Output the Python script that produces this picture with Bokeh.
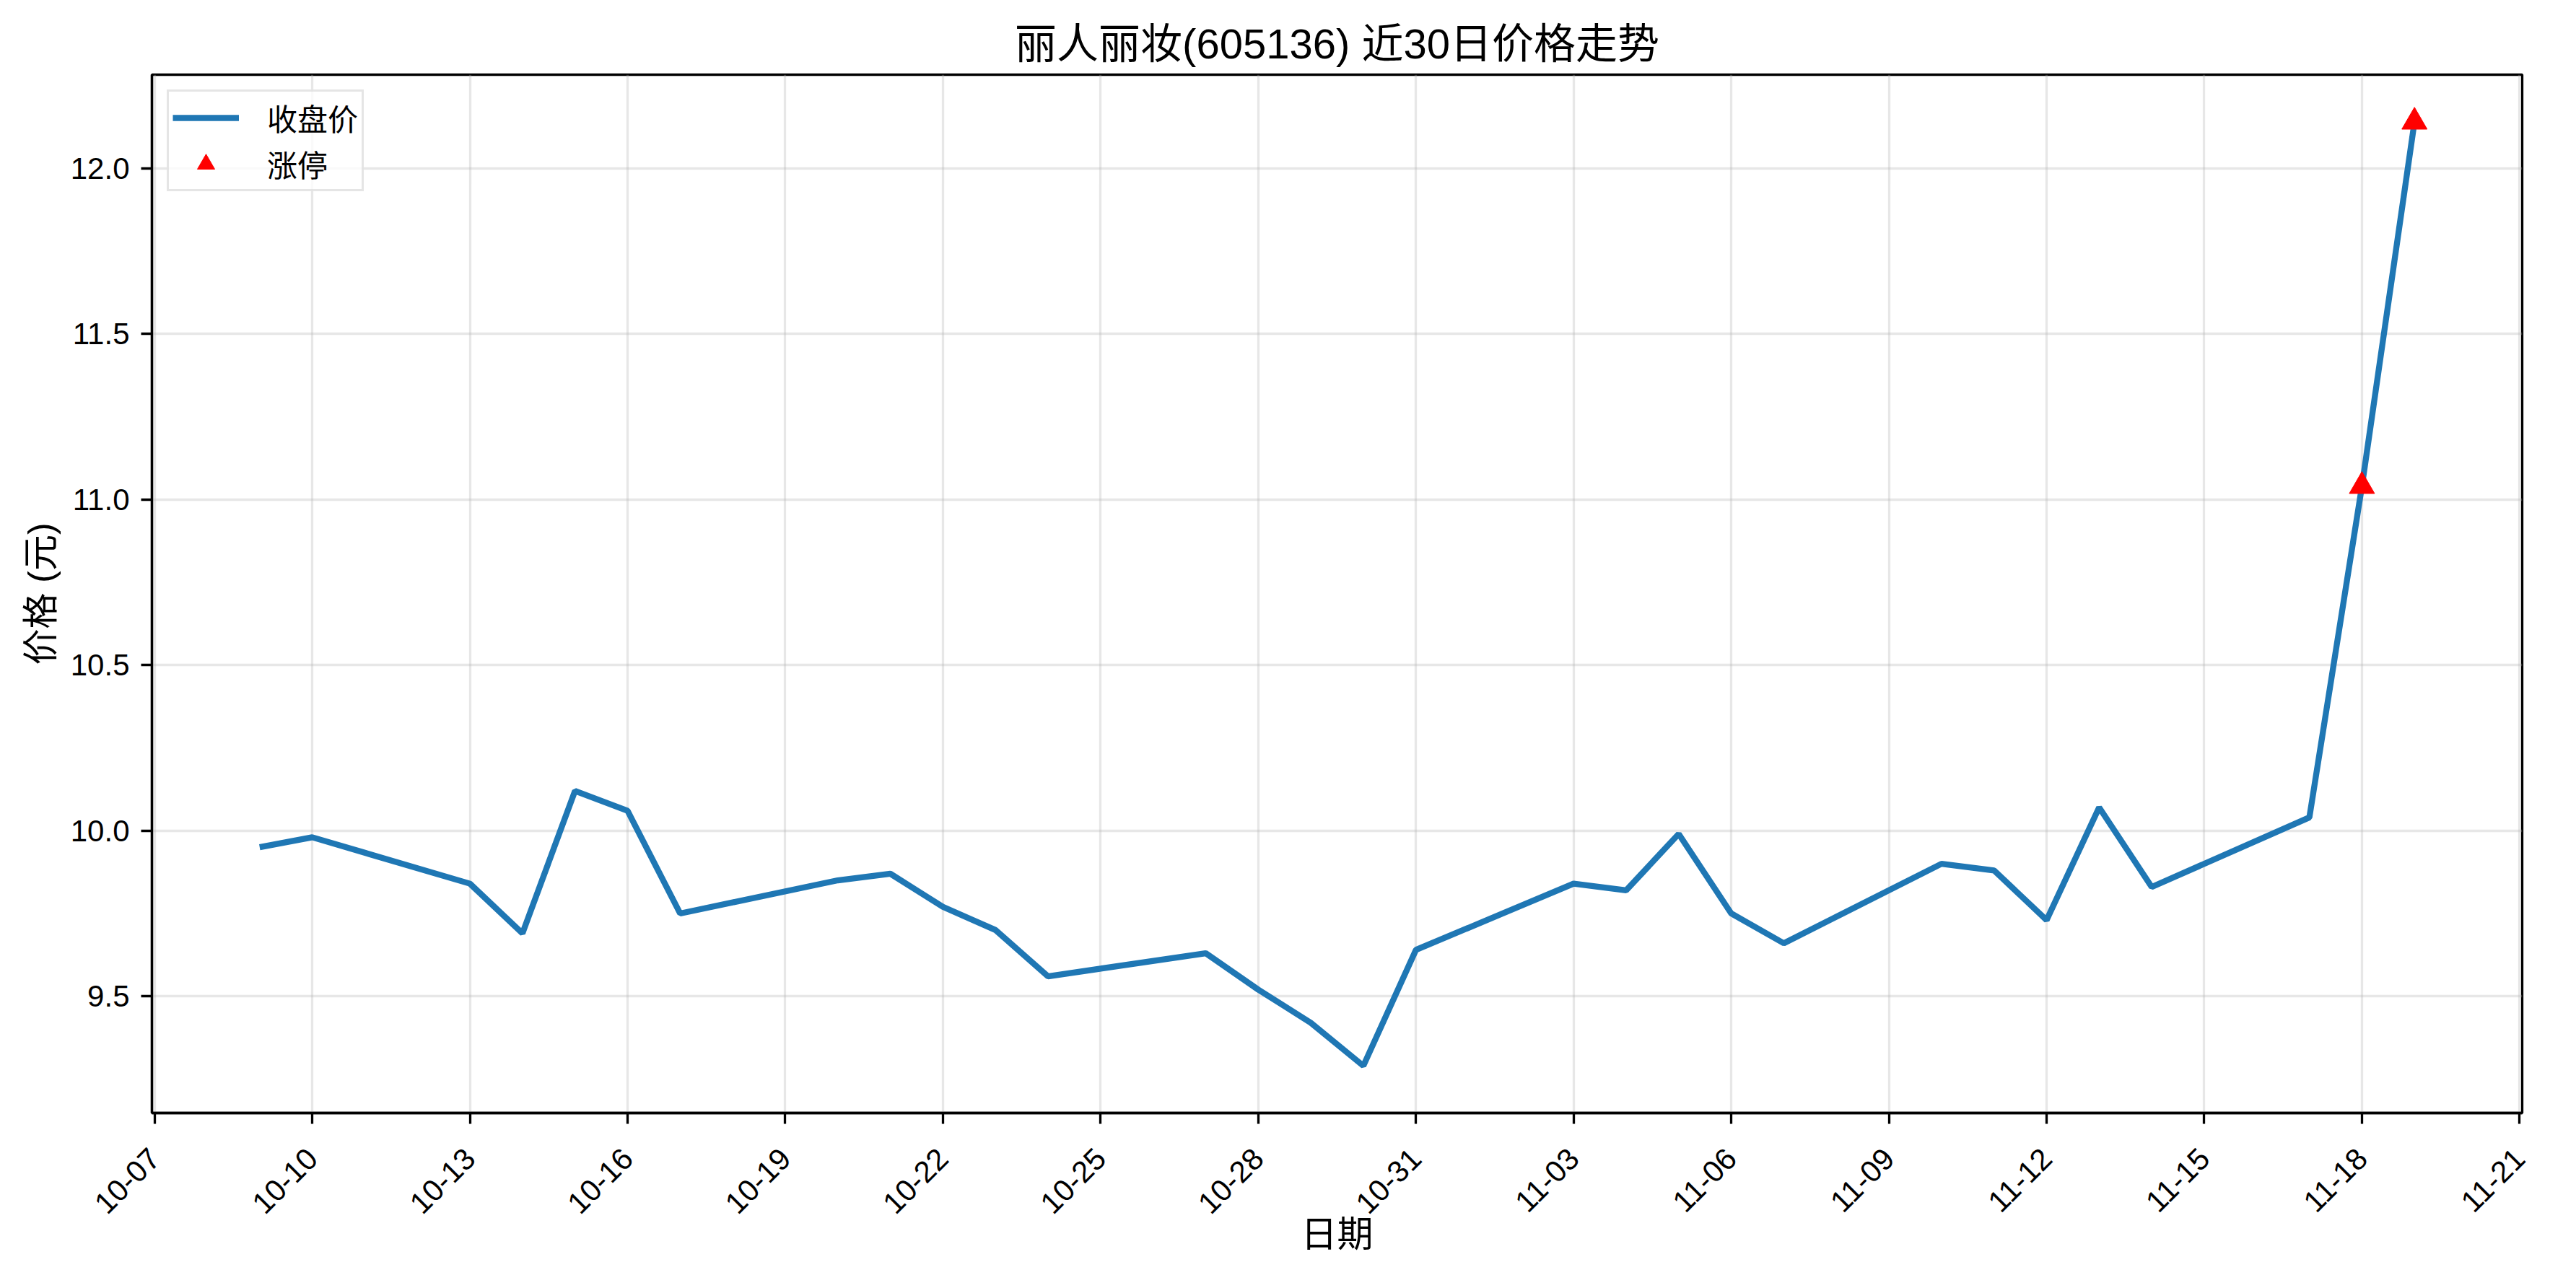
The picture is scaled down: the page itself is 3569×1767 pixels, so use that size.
import math
import pandas as pd
from bokeh.plotting import figure
from bokeh.models import (Range1d, FixedTicker, PrintfTickFormatter,
                          Legend, LegendItem, ColumnDataSource)
from bokeh.embed import file_html
from bokeh.resources import INLINE

# ---------------- data ----------------
dates = ["2025-10-09", "2025-10-10", "2025-10-13", "2025-10-14", "2025-10-15",
         "2025-10-16", "2025-10-17", "2025-10-20", "2025-10-21", "2025-10-22",
         "2025-10-23", "2025-10-24", "2025-10-27", "2025-10-28", "2025-10-29",
         "2025-10-30", "2025-10-31", "2025-11-03", "2025-11-04", "2025-11-05",
         "2025-11-06", "2025-11-07", "2025-11-10", "2025-11-11", "2025-11-12",
         "2025-11-13", "2025-11-14", "2025-11-17", "2025-11-18", "2025-11-19"]
close = [9.95, 9.98, 9.84, 9.69, 10.12,
         10.06, 9.75, 9.85, 9.87, 9.77,
         9.70, 9.56, 9.63, 9.52, 9.42,
         9.29, 9.64, 9.84, 9.82, 9.99,
         9.75, 9.66, 9.90, 9.88, 9.73,
         10.07, 9.83, 10.04, 11.04, 12.14]
limit_dates = ["2025-11-18", "2025-11-19"]
limit_prices = [11.04, 12.14]

xtick_labels = ["10-07", "10-10", "10-13", "10-16", "10-19", "10-22", "10-25",
                "10-28", "10-31", "11-03", "11-06", "11-09", "11-12", "11-15",
                "11-18", "11-21"]
ytick_values = [9.5, 10.0, 10.5, 11.0, 11.5, 12.0]

title_text = "丽人丽妆(605136) 近30日价格走势"
xlabel = "日期"
ylabel = "价格 (元)"
line_label = "收盘价"
marker_label = "涨停"

# ---------------- setup ----------------
FONT = "Liberation Sans, Noto Sans CJK SC"

x = pd.to_datetime(dates)
x_ms = [int(v.value // 10**6) for v in x]
lx = pd.to_datetime(limit_dates)
src_line = ColumnDataSource(dict(x=x, y=close))
src_lim = ColumnDataSource(dict(x=lx, y=limit_prices))

xmin, xmax = min(x_ms), max(x_ms)
xspan = xmax - xmin
ymin, ymax = min(close), max(close)
yspan = ymax - ymin

tick_dt = pd.to_datetime(["2025-" + t for t in xtick_labels])
tick_ms = [int(v.value // 10**6) for v in tick_dt]

p = figure(width=3553, height=1751, x_axis_type="datetime",
           output_backend="svg", toolbar_location=None,
           x_range=Range1d(xmin - 0.05 * xspan, xmax + 0.05 * xspan),
           y_range=Range1d(ymin - 0.05 * yspan, ymax + 0.05 * yspan),
           min_border_left=210, min_border_right=59,
           min_border_top=103, min_border_bottom=209)

p.background_fill_color = "white"
p.border_fill_color = "white"
p.outline_line_color = "black"
p.outline_line_width = 3.3

# title
p.title.text = title_text
p.title.align = "center"
p.title.text_font = FONT
p.title.text_font_size = "58px"
p.title.text_font_style = "normal"
p.title.text_color = "black"
p.title.standoff = 22

# grids
p.xgrid.ticker = FixedTicker(ticks=tick_ms)
p.ygrid.ticker = FixedTicker(ticks=ytick_values)
for g in (p.xgrid, p.ygrid):
    g.grid_line_color = "#b0b0b0"
    g.grid_line_alpha = 0.3
    g.grid_line_width = 3.3

# x axis
xa = p.xaxis[0]
xa.ticker = FixedTicker(ticks=tick_ms)
xa.major_label_overrides = {t: lab for t, lab in zip(tick_ms, xtick_labels)}
xa.major_label_orientation = math.pi / 4
xa.major_label_text_color = "black"
xa.major_label_text_font = FONT
xa.major_label_text_font_size = "42px"
xa.major_label_standoff = 41
xa.axis_line_color = "black"
xa.axis_line_width = 3.3
xa.major_tick_line_color = "black"
xa.major_tick_line_width = 3.3
xa.major_tick_out = 15
xa.major_tick_in = 0
xa.minor_tick_line_color = None
xa.axis_label = xlabel
xa.axis_label_text_font = FONT
xa.axis_label_text_font_size = "50px"
xa.axis_label_text_font_style = "normal"
xa.axis_label_text_color = "black"
xa.axis_label_standoff = -15

# y axis
ya = p.yaxis[0]
ya.ticker = FixedTicker(ticks=ytick_values)
ya.formatter = PrintfTickFormatter(format="%.1f")
ya.axis_line_color = "black"
ya.axis_line_width = 3.3
ya.major_tick_line_color = "black"
ya.major_tick_line_width = 3.3
ya.major_tick_out = 15
ya.major_tick_in = 0
ya.minor_tick_line_color = None
ya.major_label_standoff = 16
ya.major_label_text_font = FONT
ya.major_label_text_font_size = "42px"
ya.major_label_text_color = "black"
ya.axis_label = ylabel
ya.axis_label_text_font = FONT
ya.axis_label_text_font_size = "50px"
ya.axis_label_text_font_style = "normal"
ya.axis_label_text_color = "black"
ya.axis_label_standoff = 10

# glyphs
r_line = p.line("x", "y", source=src_line, line_color="#1f77b4", line_width=8.3)
r_mark = p.scatter("x", "y", source=src_lim, marker="triangle", size=35,
                   fill_color="red", line_color="red", line_width=1)

legend = Legend(items=[LegendItem(label=line_label, renderers=[r_line]),
                       LegendItem(label=marker_label, renderers=[r_mark])],
                location="top_left")
legend.margin = 21
legend.padding = 5
legend.spacing = 3
legend.glyph_width = 92
legend.glyph_height = 60
legend.label_height = 60
legend.label_standoff = 39
legend.label_text_font = FONT
legend.label_text_font_size = "42px"
legend.label_text_color = "black"
legend.border_line_color = "#cccccc"
legend.border_line_width = 3
legend.background_fill_alpha = 0.8
p.add_layout(legend, "center")

open("out.html", "w").write(file_html(p, INLINE))
